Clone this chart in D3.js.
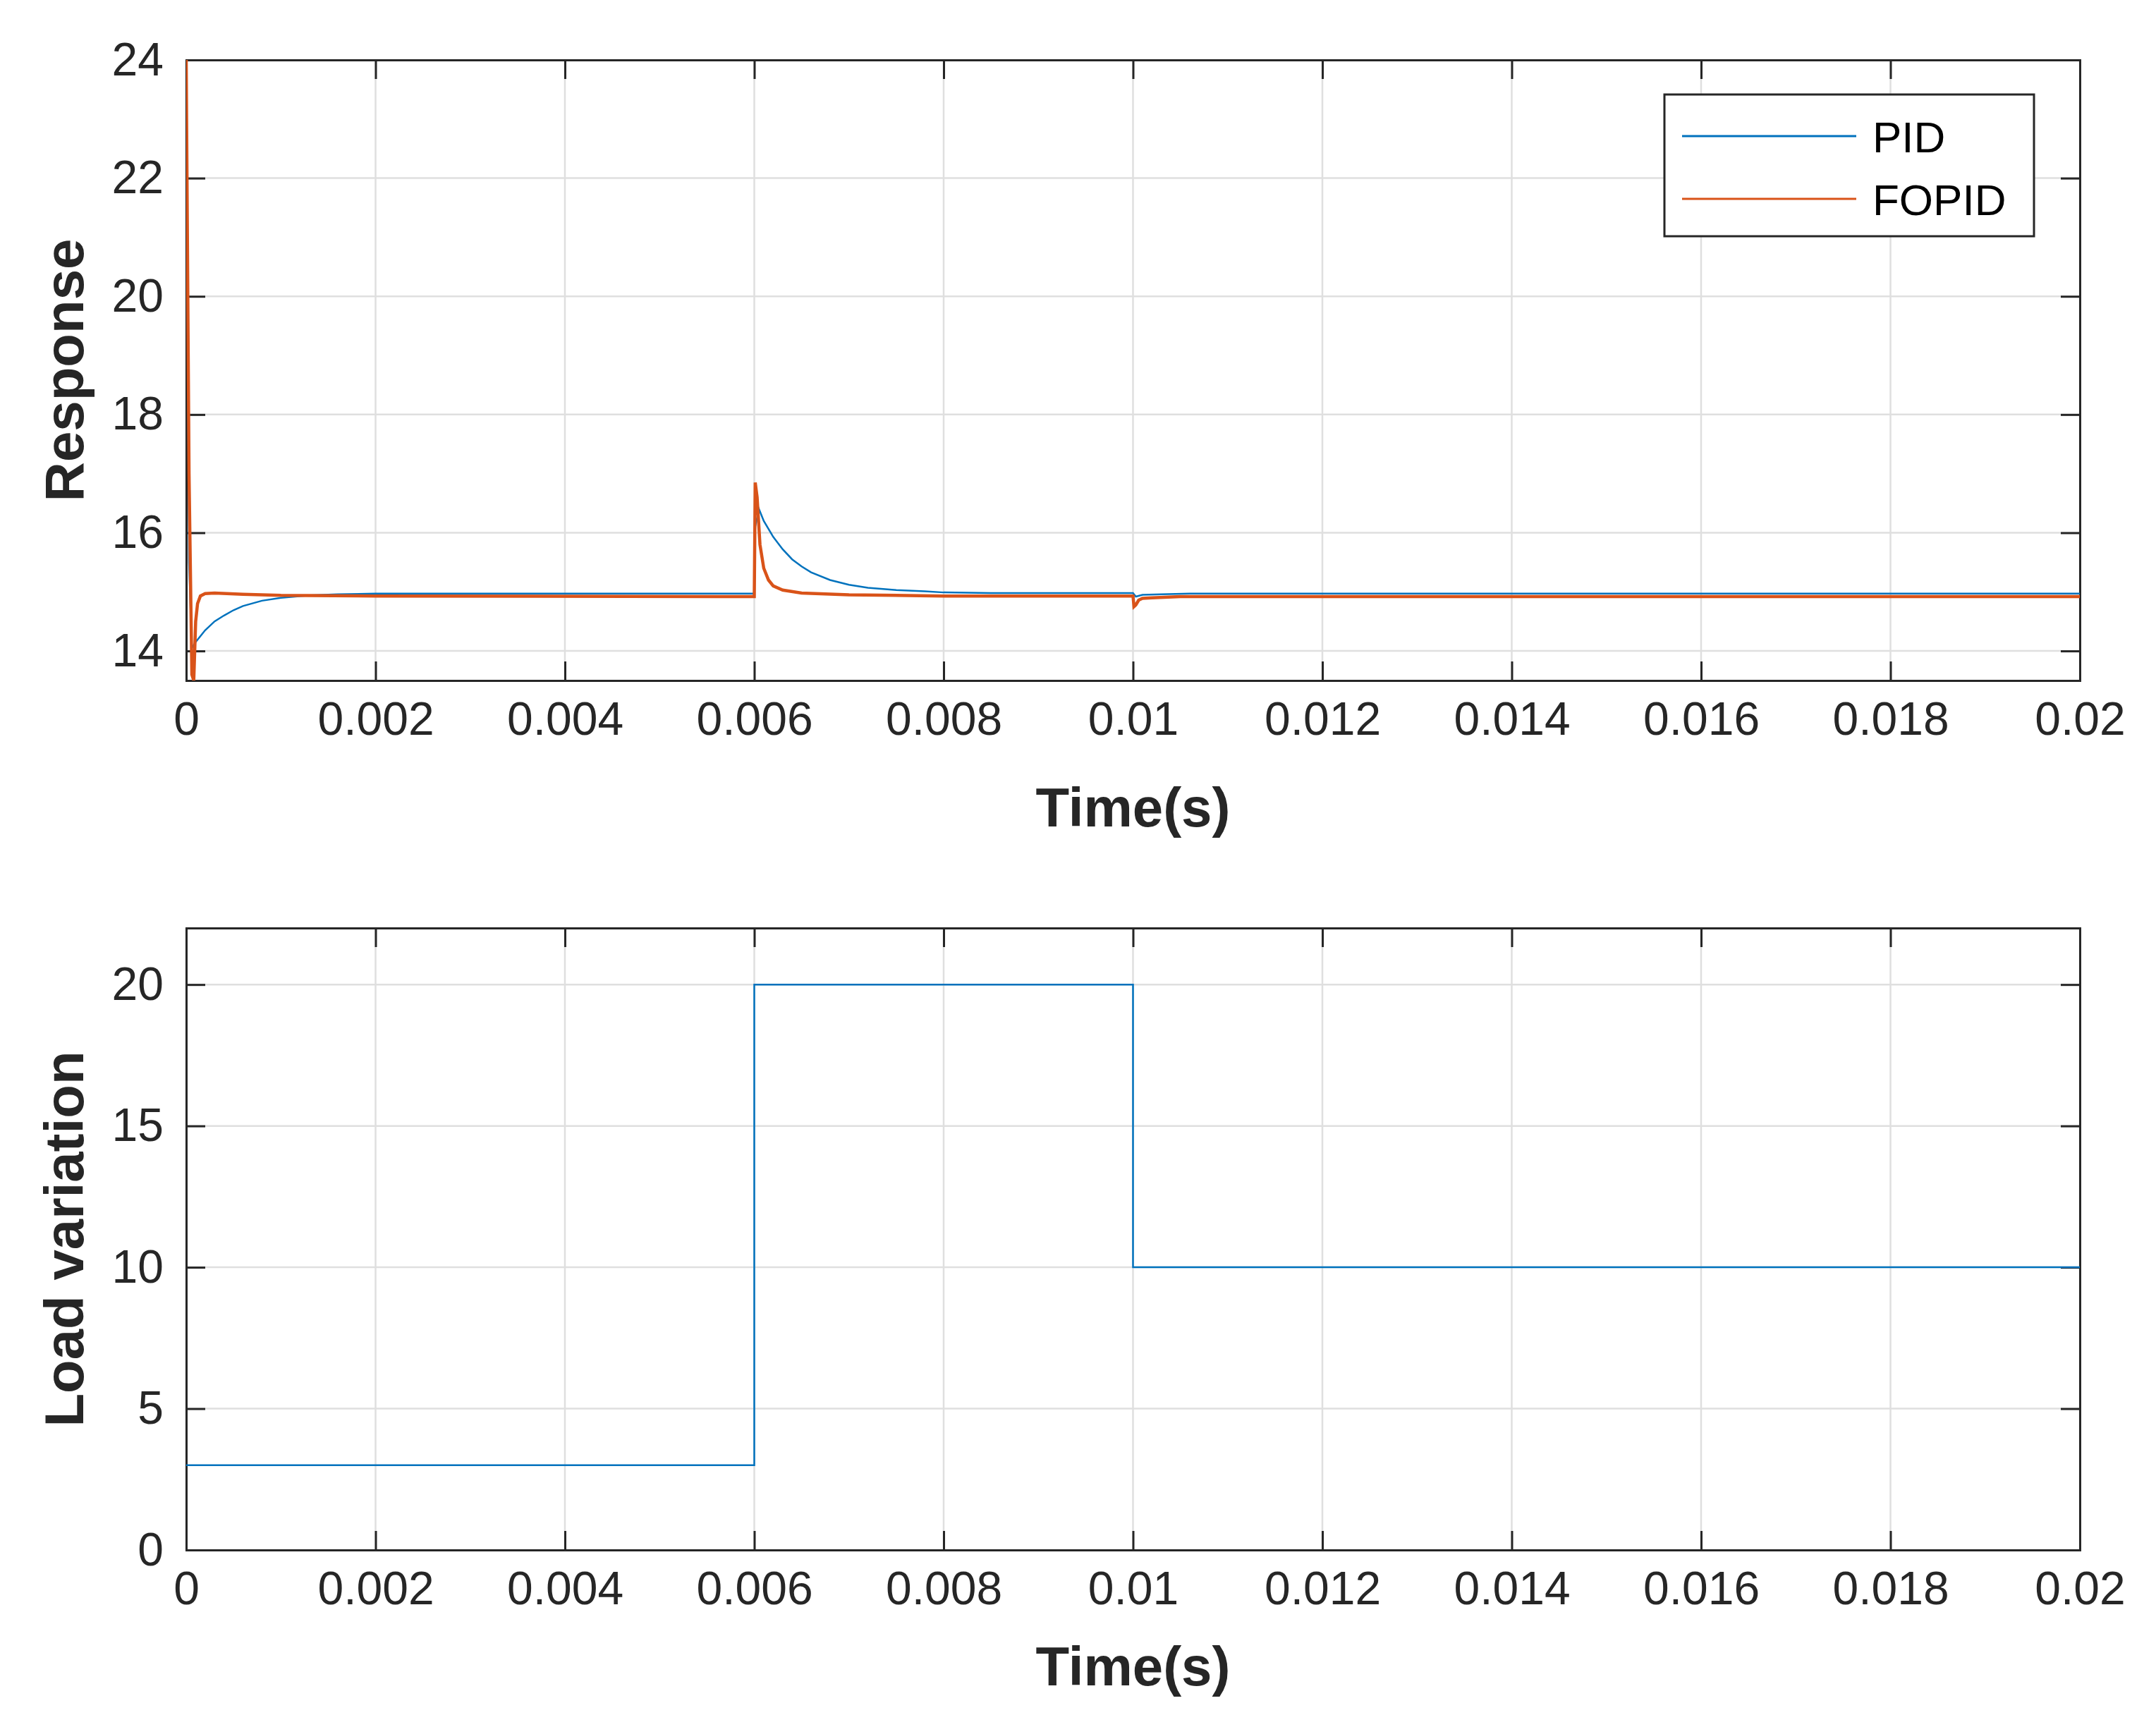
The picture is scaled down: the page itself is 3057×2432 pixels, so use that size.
<!DOCTYPE html>
<html><head><meta charset="utf-8">
<script src="https://cdn.jsdelivr.net/npm/d3@7"></script>
<style>body{margin:0;background:#fff}text{font-family:"Liberation Sans",Arial,sans-serif}</style>
</head><body><svg id="c" width="3057" height="2432"></svg>
<script>
const xTicks=[0,0.002,0.004,0.006,0.008,0.01,0.012,0.014,0.016,0.018,0.02];
const xTickLabels=["0","0.002","0.004","0.006","0.008","0.01","0.012","0.014","0.016","0.018","0.02"];
const y1Ticks=[14,16,18,20,22,24];
const y2Ticks=[0,5,10,15,20];
const pidT=[0,0.00003,0.00006,0.0001,0.0002,0.0003,0.0004,0.0005,0.0006,0.0008,0.001,0.0013,0.0016,0.002,0.006,0.00601,0.00605,0.0061,0.0062,0.0063,0.0064,0.0065,0.0066,0.0068,0.007,0.0072,0.0075,0.0078,0.008,0.0085,0.01,0.01003,0.0101,0.0103,0.0106,0.02];
const pidV=[24,15.5,14.05,14.15,14.35,14.5,14.6,14.69,14.76,14.85,14.9,14.94,14.96,14.97,14.97,16.1,16.4,16.2,15.93,15.72,15.55,15.43,15.33,15.2,15.12,15.07,15.03,15.01,14.99,14.98,14.98,14.92,14.95,14.96,14.97,14.97];
const fopT=[0,0.00003,0.00006,0.00008,0.0001,0.00012,0.00015,0.0002,0.0003,0.0006,0.001,0.002,0.006,0.00601,0.00603,0.00606,0.0061,0.00615,0.0062,0.0063,0.0065,0.007,0.008,0.01,0.01001,0.01003,0.01006,0.0101,0.0102,0.0105,0.02];
const fopV=[24,17,13.6,13.5,14.5,14.8,14.93,14.97,14.98,14.96,14.94,14.93,14.92,16.85,16.6,15.8,15.4,15.2,15.1,15.03,14.98,14.95,14.93,14.93,14.75,14.78,14.86,14.89,14.9,14.92,14.92];
const loadT=[0,0.006,0.006,0.01,0.01,0.02];
const loadV=[3,3,20,20,10,10];
const series=["PID","FOPID"];
const colors=["#0072BD","#D95319"];

const svg=d3.select("#c");
const L=264,R=2949;
const x=d3.scaleLinear().domain([0,0.02]).range([L,R]);
function panel(top,bot,ydom,yt,ylab,titleOff){
  const y=d3.scaleLinear().domain(ydom).range([bot,top]);
  const g=svg.append("g");
  g.selectAll(".gx").data(xTicks).join("line").attr("x1",d=>x(d)).attr("x2",d=>x(d)).attr("y1",top).attr("y2",bot).attr("stroke","#dfdfdf").attr("stroke-width",2.5);
  g.selectAll(".gy").data(yt).join("line").attr("y1",d=>y(d)).attr("y2",d=>y(d)).attr("x1",L).attr("x2",R).attr("stroke","#dfdfdf").attr("stroke-width",2.5);
  const ax=g.append("g").attr("transform",`translate(0,${bot})`).call(d3.axisBottom(x).tickValues(xTicks).tickFormat((d,i)=>xTickLabels[i]).tickSize(-27).tickPadding(30));
  const ax2=g.append("g").attr("transform",`translate(0,${top})`).call(d3.axisTop(x).tickValues(xTicks).tickFormat("").tickSize(-27));
  const ay=g.append("g").attr("transform",`translate(${L},0)`).call(d3.axisLeft(y).tickValues(yt).tickSize(-27).tickPadding(32));
  const ay2=g.append("g").attr("transform",`translate(${R},0)`).call(d3.axisRight(y).tickValues(yt).tickFormat("").tickSize(-27));
  [ax,ax2,ay,ay2].forEach(a=>{a.select(".domain").attr("stroke","#262626").attr("stroke-width",3);a.selectAll(".tick line").attr("stroke","#262626").attr("stroke-width",3);a.selectAll("text").attr("font-size",66).attr("fill","#262626").attr("font-family","Liberation Sans,Arial");});
  g.append("text").attr("x",(L+R)/2).attr("y",bot+titleOff).attr("text-anchor","middle").attr("font-size",78).attr("font-weight","bold").attr("fill","#262626").text("Time(s)");
  g.append("text").attr("transform",`translate(118,${(top+bot)/2}) rotate(-90)`).attr("text-anchor","middle").attr("font-size",78).attr("font-weight","bold").attr("fill","#262626").text(ylab);
  return {y,g,top,bot};
}
const p1=panel(85,965,[13.5,24],y1Ticks,"Response",207);
const p2=panel(1316,2198,[0,22],y2Ticks,"Load variation",192);
svg.append("clipPath").attr("id","cl1").append("rect").attr("x",L).attr("y",85).attr("width",R-L).attr("height",880);
const line1=d3.line().x(d=>x(d[0])).y(d=>p1.y(d[1]));
svg.append("path").attr("clip-path","url(#cl1)").attr("d",line1(pidT.map((t,i)=>[t,pidV[i]]))).attr("fill","none").attr("stroke",colors[0]).attr("stroke-width",2.5);
svg.append("path").attr("clip-path","url(#cl1)").attr("d",line1(fopT.map((t,i)=>[t,fopV[i]]))).attr("fill","none").attr("stroke",colors[1]).attr("stroke-width",4.5);
const line2=d3.line().x(d=>x(d[0])).y(d=>p2.y(d[1]));
svg.append("path").attr("d",line2(loadT.map((t,i)=>[t,loadV[i]]))).attr("fill","none").attr("stroke",colors[0]).attr("stroke-width",2.5);
const lg=svg.append("g");
lg.append("rect").attr("x",2360).attr("y",134).attr("width",524).attr("height",201).attr("fill","#fff").attr("stroke","#262626").attr("stroke-width",3);
series.forEach((s,i)=>{
  const yy=193+i*89;
  lg.append("line").attr("x1",2385).attr("x2",2632).attr("y1",yy).attr("y2",yy).attr("stroke",colors[i]).attr("stroke-width",3);
  lg.append("text").attr("x",2655).attr("y",yy+23).attr("font-size",62).attr("fill","#000").text(s);
});
</script></body></html>
